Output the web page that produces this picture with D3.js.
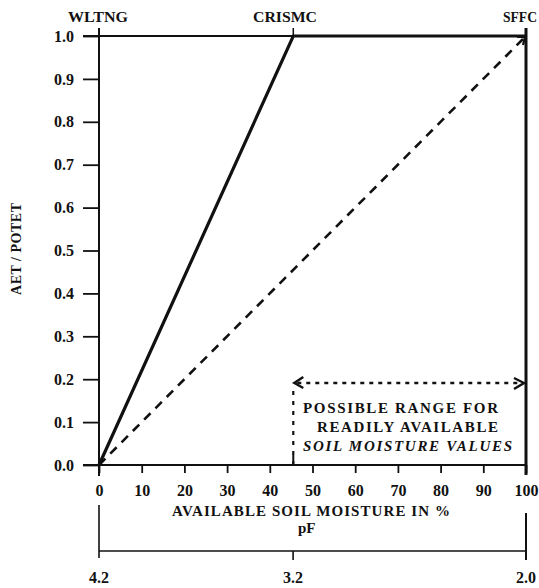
<!DOCTYPE html>
<html><head><meta charset="utf-8">
<script src="https://cdn.jsdelivr.net/npm/d3@7"></script>
<style>
html,body{margin:0;padding:0;background:#fff;}
svg{display:block;}
text{font-family:"Liberation Serif","Times New Roman",serif;font-weight:bold;fill:#111;}
</style></head>
<body>
<script>
// ---- data ----
const yTicks = [0.0,0.1,0.2,0.3,0.4,0.5,0.6,0.7,0.8,0.9,1.0];
const xTicks = [0,10,20,30,40,50,60,70,80,90,100];
const pfTicks = [4.2,3.2,2.0];
const topLabels = ["WLTNG","CRISMC","SFFC"];
const topLabelX = [0,45.5,100];
const aetSolid = [[0,0],[45.5,1.0],[100,1.0]];
const aetDashed = [[0,0],[100,1.0]];
const rangeX = [45.5,100];
const boxLines = ["POSSIBLE RANGE FOR","READILY AVAILABLE","SOIL MOISTURE VALUES"];

const W=539,H=588;
const svg=d3.select("body").append("svg").attr("width",W).attr("height",H);
const x=d3.scaleLinear().domain([0,100]).range([99,526]);
const y=d3.scaleLinear().domain([0,1]).range([465,36]);
const pf=d3.scaleLinear().domain([4.2,2.0]).range([99,526]);
const ink="#111";

// y axis
const yAxis=d3.axisLeft(y).tickValues(yTicks).tickFormat(d3.format(".1f")).tickSize(16).tickPadding(9);
const gy=svg.append("g").attr("transform",`translate(${x(0)},0)`).call(yAxis);
gy.select(".domain").remove();
gy.selectAll(".tick line").attr("stroke",ink).attr("stroke-width",1.8);
gy.selectAll(".tick text").attr("font-size",16).attr("font-family","Liberation Serif").attr("font-weight","bold").attr("fill",ink);
svg.append("line").attr("x1",x(0)).attr("x2",x(0)).attr("y1",y(1)-8).attr("y2",y(0)+11).attr("stroke",ink).attr("stroke-width",2);

// x axis
const xAxis=d3.axisBottom(x).tickValues(xTicks).tickSize(8).tickPadding(12).tickFormat(d3.format("d"));
const gx=svg.append("g").attr("transform",`translate(0,${y(0)})`).call(xAxis);
gx.select(".domain").remove();
gx.selectAll(".tick line").attr("stroke",ink).attr("stroke-width",1.8);
gx.selectAll(".tick text").attr("font-size",16).attr("font-family","Liberation Serif").attr("font-weight","bold").attr("fill",ink);
svg.append("line").attr("x1",x(0)-16).attr("x2",x(100)).attr("y1",y(0)).attr("y2",y(0)).attr("stroke",ink).attr("stroke-width",2);

// top line (thin part)
svg.append("line").attr("x1",x(0)-16).attr("x2",x(45.5)).attr("y1",y(1)).attr("y2",y(1)).attr("stroke",ink).attr("stroke-width",2);
// right line
svg.append("line").attr("x1",x(100)).attr("x2",x(100)).attr("y1",y(1)-8).attr("y2",y(0)+10).attr("stroke",ink).attr("stroke-width",3);
// CRISMC tick
svg.append("line").attr("x1",x(45.5)).attr("x2",x(45.5)).attr("y1",y(1)-8).attr("y2",y(1)).attr("stroke",ink).attr("stroke-width",1.5);

const line=d3.line().x(d=>x(d[0])).y(d=>y(d[1]));
svg.append("path").attr("d",line(aetSolid)).attr("fill","none").attr("stroke",ink).attr("stroke-width",3.2);
svg.append("path").attr("d",line(aetDashed)).attr("fill","none").attr("stroke",ink).attr("stroke-width",2.6).attr("stroke-dasharray","9,7");
// small arrow tip at dashed end
{
  const ex=x(100), ey=y(1);
  svg.append("path").attr("d",`M${ex-9},${ey+1}L${ex-1},${ey+1}L${ex-3},${ey+9}`).attr("fill","none").attr("stroke",ink).attr("stroke-width",2.2);
}

// top labels
const topW=[60,64,34];
const topX=[68,253,503];
topLabels.forEach((t,i)=>{
  svg.append("text").attr("x",topX[i]).attr("y",22).attr("font-size",15)
    .attr("textLength",topW[i]).attr("lengthAdjust","spacingAndGlyphs").text(t);
});

// y label
svg.append("text").attr("transform","translate(21,249) rotate(-90)").attr("text-anchor","middle")
  .attr("font-size",14).attr("textLength",92).attr("lengthAdjust","spacing").text("AET / POTET");

// x title
svg.append("text").attr("x",172).attr("y",516).attr("font-size",15).attr("textLength",278).attr("lengthAdjust","spacing").text("AVAILABLE SOIL MOISTURE IN %");
svg.append("text").attr("x",298).attr("y",533).attr("font-size",15).text("pF");

// pF axis
svg.append("line").attr("x1",pf(4.2)).attr("x2",pf(2.0)).attr("y1",551).attr("y2",551).attr("stroke",ink).attr("stroke-width",1.6);
svg.append("line").attr("x1",pf(4.2)).attr("x2",pf(4.2)).attr("y1",505).attr("y2",558).attr("stroke",ink).attr("stroke-width",1.6);
svg.append("line").attr("x1",pf(3.2)).attr("x2",pf(3.2)).attr("y1",551).attr("y2",560).attr("stroke",ink).attr("stroke-width",1.6);
svg.append("line").attr("x1",pf(2.0)).attr("x2",pf(2.0)).attr("y1",513).attr("y2",560).attr("stroke",ink).attr("stroke-width",2);
pfTicks.forEach(v=>{
  svg.append("text").attr("x",pf(v)).attr("y",583).attr("text-anchor","middle").attr("font-size",16).text(d3.format(".1f")(v));
});

// annotation: range arrows
const ay=383;
svg.append("line").attr("x1",x(rangeX[0])+4).attr("x2",x(rangeX[1])-4).attr("y1",ay).attr("y2",ay)
  .attr("stroke",ink).attr("stroke-width",2.6).attr("stroke-dasharray","4,5");
svg.append("path").attr("d",`M${x(rangeX[0])+10},${ay-6}L${x(rangeX[0])+1},${ay}L${x(rangeX[0])+10},${ay+5}`).attr("fill","none").attr("stroke",ink).attr("stroke-width",2.4);
svg.append("path").attr("d",`M${x(rangeX[1])-12},${ay-5}L${x(rangeX[1])-2},${ay}L${x(rangeX[1])-12},${ay+6}`).attr("fill","none").attr("stroke",ink).attr("stroke-width",2.4);
svg.append("line").attr("x1",x(rangeX[0])).attr("x2",x(rangeX[0])).attr("y1",ay+8).attr("y2",y(0))
  .attr("stroke",ink).attr("stroke-width",2.2).attr("stroke-dasharray","4,6");
svg.append("line").attr("x1",x(rangeX[0])).attr("x2",x(rangeX[0])).attr("y1",y(0)-10).attr("y2",y(0)).attr("stroke",ink).attr("stroke-width",2);

const bx=[303,317,303], bw=[195,181,209], by=[413,432,451];
boxLines.forEach((t,i)=>{
  svg.append("text").attr("x",bx[i]).attr("y",by[i]).attr("font-size",15)
    .attr("font-style",i===2?"italic":"normal")
    .attr("textLength",bw[i]).attr("lengthAdjust","spacing").text(t);
});
</script>
</body></html>
